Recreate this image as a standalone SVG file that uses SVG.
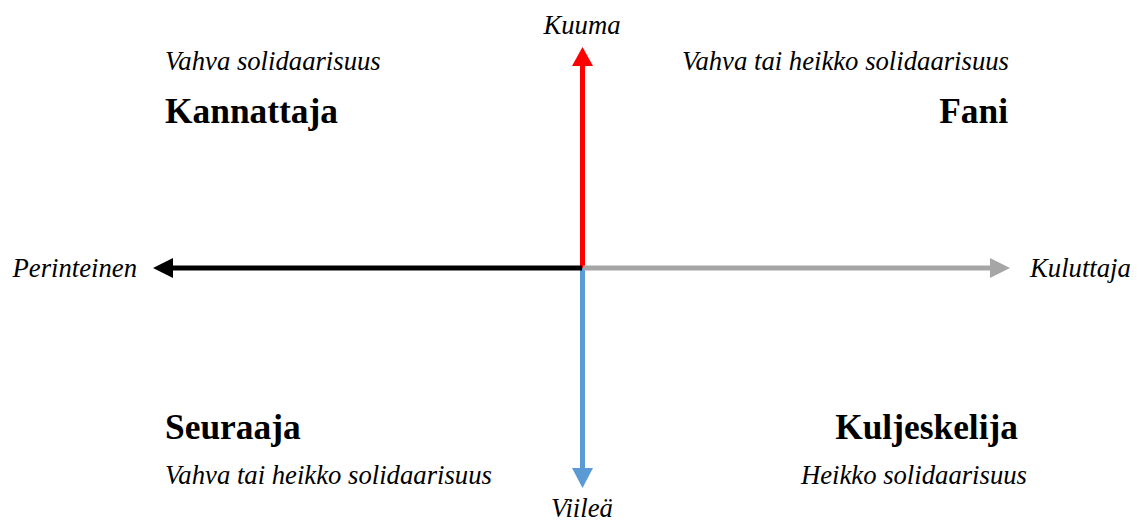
<svg xmlns="http://www.w3.org/2000/svg" width="1139" height="524" viewBox="0 0 1139 524">
<style>
.i{font-family:"Liberation Serif","Times New Roman",serif;font-style:italic;font-size:26.7px;fill:#000}
.b{font-family:"Liberation Serif","Times New Roman",serif;font-weight:bold;font-size:35.4px;fill:#000}
</style>
<rect width="1139" height="524" fill="#fff"/>
<g id="connectors">
<line x1="582.5" y1="268" x2="582.5" y2="64" stroke="#ff0000" stroke-width="5"/>
<polygon points="582.5,47 572,66 593,66" fill="#ff0000"/>
<line x1="582.5" y1="268" x2="582.5" y2="470" stroke="#5b9bd5" stroke-width="5"/>
<polygon points="582.5,488 572,468 593,468" fill="#5b9bd5"/>
<line x1="583" y1="268" x2="993" y2="268" stroke="#a6a6a6" stroke-width="5"/>
<polygon points="1010,268 990,258 990,278" fill="#a6a6a6"/>
<line x1="582" y1="268" x2="170" y2="268" stroke="#000" stroke-width="5"/>
<polygon points="153,268 173,258 173,278" fill="#000"/>
</g>
<g id="axis-labels">
<text class="i" x="582" y="34" text-anchor="middle">Kuuma</text>
<text class="i" x="582" y="517" text-anchor="middle">Viileä</text>
<text class="i" x="137" y="277" text-anchor="end">Perinteinen</text>
<text class="i" x="1030" y="277">Kuluttaja</text>
</g>
<g id="kannattaja">
<text class="i" x="165" y="70">Vahva solidaarisuus</text>
<text class="b" x="165" y="123">Kannattaja</text>
</g>
<g id="fani">
<text class="i" x="1009" y="70" text-anchor="end">Vahva tai heikko solidaarisuus</text>
<text class="b" x="1008" y="123" text-anchor="end">Fani</text>
</g>
<g id="seuraaja">
<text class="b" x="165" y="439">Seuraaja</text>
<text class="i" x="165" y="484">Vahva tai heikko solidaarisuus</text>
</g>
<g id="kuljeskelija">
<text class="b" x="1018" y="439" text-anchor="end">Kuljeskelija</text>
<text class="i" x="1027" y="484" text-anchor="end">Heikko solidaarisuus</text>
</g>
</svg>
